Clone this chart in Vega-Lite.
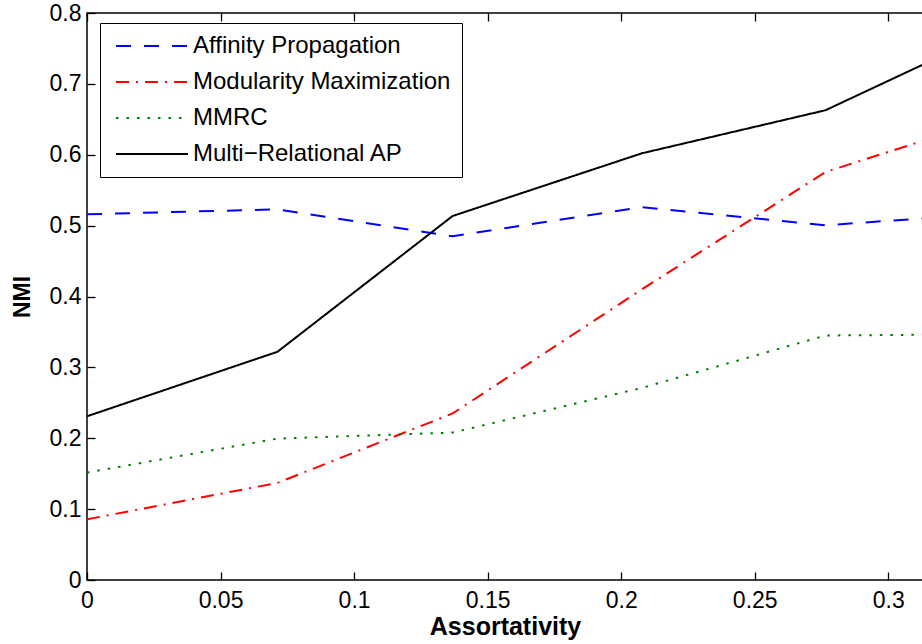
{
  "$schema": "https://vega.github.io/schema/vega-lite/v6.json",
  "width": 836,
  "height": 567,
  "autosize": {"type": "none"},
  "padding": {"left": 87, "top": 13, "right": 0, "bottom": 64},
  "background": "white",
  "config": {
    "view": {"stroke": "black", "strokeWidth": 1.5},
    "font": "Liberation Sans",
    "axis": {"ticks": false, "labelColor": "black", "titleColor": "black", "domain": false,
      "grid": true, "gridColor": "#000000", "gridOpacity": 1, "gridWidth": 1.3}
  },
  "data": {
    "values": [
      {"x": 0, "y": 0.516, "s": "Affinity Propagation"},
      {"x": 0.0713, "y": 0.523, "s": "Affinity Propagation"},
      {"x": 0.1369, "y": 0.485, "s": "Affinity Propagation"},
      {"x": 0.2077, "y": 0.526, "s": "Affinity Propagation"},
      {"x": 0.2765, "y": 0.5005, "s": "Affinity Propagation"},
      {"x": 0.3457, "y": 0.519, "s": "Affinity Propagation"},
      {"x": 0, "y": 0.0856, "s": "Modularity Maximization"},
      {"x": 0.0713, "y": 0.137, "s": "Modularity Maximization"},
      {"x": 0.1369, "y": 0.235, "s": "Modularity Maximization"},
      {"x": 0.2077, "y": 0.41, "s": "Modularity Maximization"},
      {"x": 0.2765, "y": 0.5757, "s": "Modularity Maximization"},
      {"x": 0.3457, "y": 0.659, "s": "Modularity Maximization"},
      {"x": 0, "y": 0.1515, "s": "MMRC"},
      {"x": 0.0713, "y": 0.1995, "s": "MMRC"},
      {"x": 0.1369, "y": 0.208, "s": "MMRC"},
      {"x": 0.2077, "y": 0.271, "s": "MMRC"},
      {"x": 0.2765, "y": 0.345, "s": "MMRC"},
      {"x": 0.3457, "y": 0.347, "s": "MMRC"},
      {"x": 0, "y": 0.231, "s": "Multi\u2212Relational AP"},
      {"x": 0.0713, "y": 0.322, "s": "Multi\u2212Relational AP"},
      {"x": 0.1369, "y": 0.5136, "s": "Multi\u2212Relational AP"},
      {"x": 0.2077, "y": 0.602, "s": "Multi\u2212Relational AP"},
      {"x": 0.2765, "y": 0.6628, "s": "Multi\u2212Relational AP"},
      {"x": 0.3457, "y": 0.785, "s": "Multi\u2212Relational AP"}
    ]
  },
  "mark": {"type": "line", "clip": true, "strokeWidth": 2},
  "encoding": {
    "x": {
      "field": "x", "type": "quantitative",
      "scale": {"domain": [0, 0.313], "nice": false, "zero": false},
      "axis": {
        "orient": "bottom",
        "values": [0, 0.05, 0.1, 0.15, 0.2, 0.25, 0.3],
        "format": "~g",
        "gridDash": [8, 551, 8, 200],
        "title": "Assortativity",
        "titleFontSize": 25, "titleFontWeight": "bold", "titlePadding": 2,
        "labelFontSize": 23, "labelPadding": 9, "labelFlush": false
      }
    },
    "y": {
      "field": "y", "type": "quantitative",
      "scale": {"domain": [0, 0.8], "nice": false},
      "axis": {
        "orient": "left",
        "values": [0, 0.1, 0.2, 0.3, 0.4, 0.5, 0.6, 0.7, 0.8],
        "format": "~g",
        "gridDash": [8, 2000],
        "title": "NMI",
        "titleFontSize": 23, "titleFontWeight": "bold", "titlePadding": 15,
        "labelFontSize": 23, "labelPadding": 6, "labelFlush": false
      }
    },
    "color": {
      "field": "s", "type": "nominal",
      "scale": {
        "domain": ["Affinity Propagation", "Modularity Maximization", "MMRC", "Multi\u2212Relational AP"],
        "range": ["#0000ff", "#ff0000", "#008000", "#000000"]
      },
      "legend": {
        "title": null, "orient": "none", "legendX": 13, "legendY": 10,
        "strokeColor": "black", "fillColor": "white", "padding": 11,
        "symbolType": "M-0.78,0H7.22", "symbolStrokeWidth": 2, "symbolSize": 324,
        "labelFontSize": 24, "labelColor": "black", "labelLimit": 400, "labelOffset": 58,
        "rowPadding": 12
      }
    },
    "strokeDash": {
      "field": "s", "type": "nominal",
      "scale": {
        "domain": ["Affinity Propagation", "Modularity Maximization", "MMRC", "Multi\u2212Relational AP"],
        "range": [[15, 13], [13, 7, 2, 7], [2.5, 8], [1, 0]]
      },
      "legend": {
        "title": null, "orient": "none", "legendX": 13, "legendY": 10,
        "strokeColor": "black", "fillColor": "white", "padding": 11,
        "symbolType": "M-0.78,0H7.22", "symbolStrokeWidth": 2, "symbolSize": 324,
        "labelFontSize": 24, "labelColor": "black", "labelLimit": 400, "labelOffset": 58,
        "rowPadding": 12
      }
    }
  }
}
